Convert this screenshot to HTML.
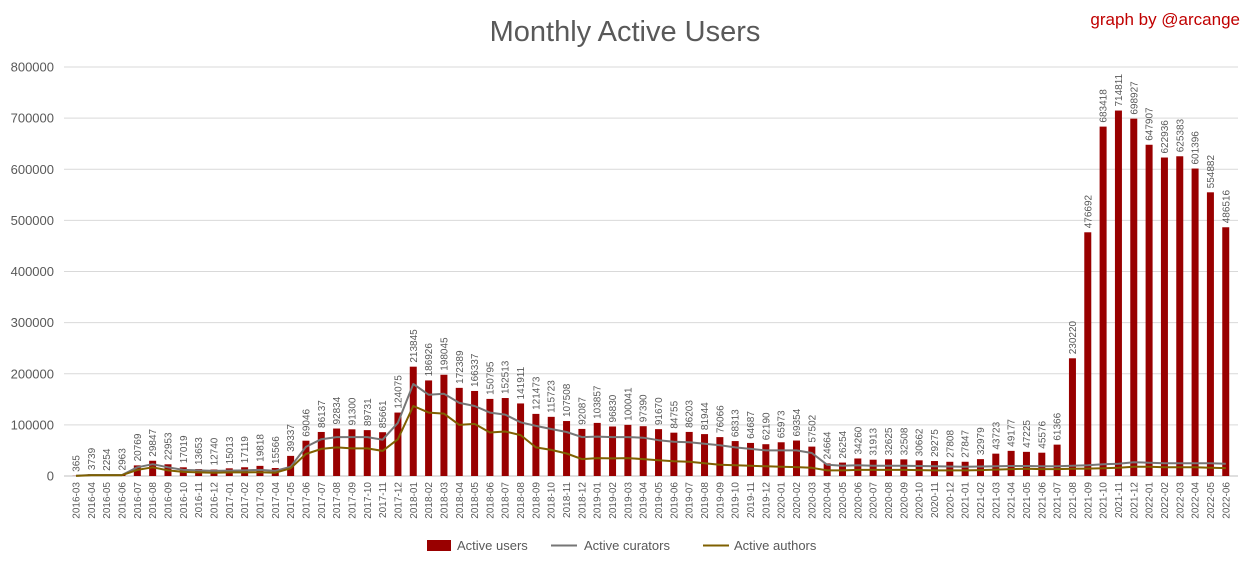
<!DOCTYPE html>
<html><head><meta charset="utf-8"><style>
body{margin:0;background:#fff;}
svg{display:block;font-family:"Liberation Sans",sans-serif;}
</style></head><body>
<svg id="c" width="1249" height="568" xmlns="http://www.w3.org/2000/svg"></svg>
<script>
var users=[365,3739,2254,2963,20769,29847,22953,17019,13653,12740,15013,17119,19818,15566,39337,69046,86137,92834,91300,89731,85661,124075,213845,186926,198045,172389,166337,150795,152513,141911,121473,115723,107508,92087,103857,96830,100041,97390,91670,84755,86203,81944,76066,68313,64687,62190,65973,69354,57502,24664,26254,34260,31913,32625,32508,30662,29275,27808,27847,32979,43723,49177,47225,45576,61366,230220,476692,683418,714811,698927,647907,622936,625383,601396,554882,486516];
var cur=[300,2000,2000,2000,17000,23000,17000,12000,11000,10000,10500,11000,12000,10000,18000,57000,72000,76000,76000,76000,71000,104000,180000,159000,161000,143000,137000,124000,120000,105000,98000,92000,86000,76000,77000,76000,76000,75000,70000,67000,66000,63000,60000,56000,53000,50000,50000,50000,45000,22000,20000,21000,20000,20000,20000,19500,19000,18500,18000,18500,19000,19500,19500,19000,19000,20000,21000,23000,24000,27000,26000,25000,25000,25000,25000,24000];
var aut=[200,1500,1500,1500,12000,17000,11000,8000,7000,6500,7000,7000,7500,6500,15000,43000,53000,56000,54000,54000,49000,72000,137000,124000,122000,100000,102000,85000,87000,80000,56000,51000,44000,33000,35000,34500,35000,33000,31000,29000,28000,25000,22000,21000,20000,19000,18000,17500,16000,11000,11000,12000,12000,12000,12000,11500,11000,11000,11000,11500,12500,13500,14000,13500,13500,14000,14500,15000,16000,18000,18000,17000,17000,17000,16000,15500];
var months=[];for(var y=2016;y<=2022;y++)for(var m=1;m<=12;m++){if(y==2016&&m<3)continue;if(y==2022&&m>6)continue;months.push(y+'-'+(m<10?'0':'')+m);}
var y0=476,k=409/800000,x0=76,dx=15.33;
function Y(v){return y0-v*k;}
var s='';
s+='<text x="625" y="41" font-size="29" fill="#595959" text-anchor="middle">Monthly Active Users</text>';
s+='<text x="1240" y="25" font-size="17" fill="#c00000" text-anchor="end">graph by @arcange</text>';
for(var i=0;i<=8;i++){var yy=Y(i*100000);s+='<line x1="64" x2="1238" y1="'+yy+'" y2="'+yy+'" stroke="'+(i==0?'#bfbfbf':'#d9d9d9')+'" stroke-width="1"/>';s+='<text x="54" y="'+(yy+4.5)+'" font-size="13" fill="#595959" text-anchor="end">'+(i*100000)+'</text>';}
for(var i=0;i<76;i++){var x=x0+i*dx;var yy=Y(users[i]);
s+='<rect x="'+(x-3.5)+'" y="'+yy+'" width="7" height="'+(y0-yy)+'" fill="#990000"/>';
s+='<text transform="translate('+(x+3.5)+','+(yy-4)+') rotate(-90)" font-size="10" fill="#595959">'+users[i]+'</text>';
s+='<text transform="translate('+(x+3.5)+',482) rotate(-90)" font-size="10" fill="#595959" text-anchor="end">'+months[i]+'</text>';}
function line(d,c){var p='';for(var i=0;i<76;i++)p+=(i?'L':'M')+(x0+i*dx).toFixed(1)+','+Y(d[i]).toFixed(1);return '<path d="'+p+'" fill="none" stroke="'+c+'" stroke-width="2" stroke-linejoin="round"/>';}
s+=line(cur,'#767676');s+=line(aut,'#7f6000');
s+='<rect x="427" y="540" width="24" height="11" fill="#990000"/><text x="457" y="550" font-size="13" fill="#595959">Active users</text>';
s+='<line x1="551" x2="577" y1="545.5" y2="545.5" stroke="#767676" stroke-width="2"/><text x="584" y="550" font-size="13" fill="#595959">Active curators</text>';
s+='<line x1="703" x2="729" y1="545.5" y2="545.5" stroke="#7f6000" stroke-width="2"/><text x="734" y="550" font-size="13" fill="#595959">Active authors</text>';
document.getElementById('c').innerHTML=s;
</script>
</body></html>
